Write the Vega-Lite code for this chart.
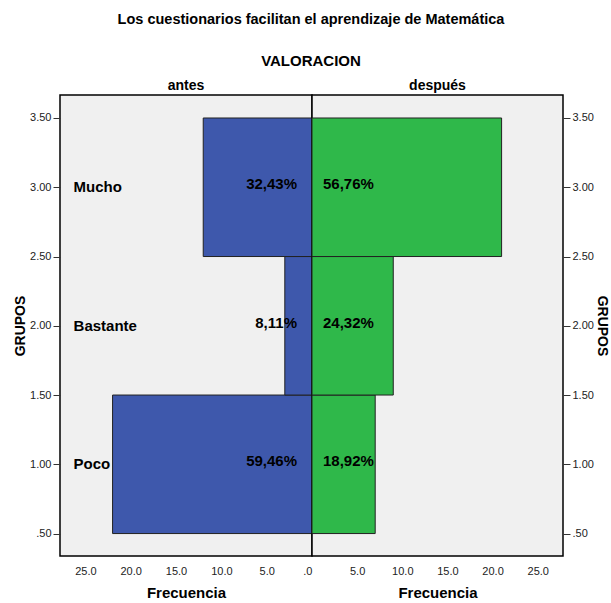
{
  "$schema": "https://vega.github.io/schema/vega-lite/v6.json",
  "padding": {"left": 12, "right": 0, "top": 11, "bottom": 0},
  "background": "white",
  "bounds": "flush",
  "title": {
    "text": "Los cuestionarios facilitan el aprendizaje de Matemática",
    "subtitle": "VALORACION",
    "anchor": "middle",
    "fontSize": 14.5,
    "fontWeight": "bold",
    "font": "Liberation Sans",
    "color": "#000000",
    "subtitleFont": "Liberation Sans",
    "subtitleFontSize": 15,
    "subtitleFontWeight": "bold",
    "subtitleColor": "#000000",
    "subtitlePadding": 27,
    "offset": 8
  },
  "datasets": {
    "antes": [
      {"grupo": "Poco", "codigo": 1, "desde": 0.5, "hasta": 1.5, "frecuencia": 22, "porcentaje": "59,46%"},
      {"grupo": "Bastante", "codigo": 2, "desde": 1.5, "hasta": 2.5, "frecuencia": 3, "porcentaje": "8,11%"},
      {"grupo": "Mucho", "codigo": 3, "desde": 2.5, "hasta": 3.5, "frecuencia": 12, "porcentaje": "32,43%"}
    ],
    "despues": [
      {"grupo": "Poco", "codigo": 1, "desde": 0.5, "hasta": 1.5, "frecuencia": 7, "porcentaje": "18,92%"},
      {"grupo": "Bastante", "codigo": 2, "desde": 1.5, "hasta": 2.5, "frecuencia": 9, "porcentaje": "24,32%"},
      {"grupo": "Mucho", "codigo": 3, "desde": 2.5, "hasta": 3.5, "frecuencia": 21, "porcentaje": "56,76%"}
    ]
  },
  "config": {
    "font": "Liberation Sans",
    "view": {"stroke": "#000000", "strokeWidth": 1.5, "fill": "#F0F0F0"},
    "axis": {"grid": false, "labelFont": "Liberation Sans", "titleFont": "Liberation Sans", "labelColor": "#222222", "titleColor": "#000000", "titleFontWeight": "bold", "titleFontSize": 14, "labelFontSize": 11},
    "title": {"font": "Liberation Sans"},
    "concat": {"spacing": 0}
  },
  "hconcat": [
    {
      "width": 252,
      "height": 461,
      "title": {"text": "antes", "fontSize": 14, "fontWeight": "bold", "color": "#000000", "offset": 2},
      "data": {"name": "antes"},
      "layer": [
        {
          "mark": {"type": "rect", "fill": "#3E58AC", "stroke": "#222222", "strokeWidth": 1},
          "encoding": {
            "x": {"field": "frecuencia", "type": "quantitative",
              "scale": {"domain": [0, 27.8], "reverse": true, "nice": false, "zero": false},
              "axis": {"values": [0, 5, 10, 15, 20, 25], "ticks": false, "domain": false, "labelPadding": 9,
                "labelExpr": "datum.value == 0 ? '.0' : format(datum.value, '.1f')",
                "title": "Frecuencia", "titleFontSize": 15, "titlePadding": 9}},
            "x2": {"datum": 0},
            "y": {"field": "desde", "type": "quantitative",
              "scale": {"domain": [0.338, 3.666], "nice": false, "zero": false},
              "axis": {"values": [0.5, 1, 1.5, 2, 2.5, 3, 3.5], "domain": false, "tickSize": 7, "tickColor": "#333333",
                "labelExpr": "datum.value < 1 ? slice(format(datum.value, '.2f'), 1) : format(datum.value, '.2f')",
                "title": "GRUPOS", "titlePadding": 2}},
            "y2": {"field": "hasta"}
          }
        },
        {
          "mark": {"type": "text", "align": "left", "baseline": "middle", "fontSize": 15, "fontWeight": "bold", "color": "#000000"},
          "encoding": {
            "x": {"datum": 26.3},
            "y": {"field": "codigo", "type": "quantitative"},
            "text": {"field": "grupo"}
          }
        },
        {
          "mark": {"type": "text", "align": "right", "baseline": "middle", "dx": -15, "dy": -3, "fontSize": 15, "fontWeight": "bold", "color": "#000000"},
          "encoding": {
            "x": {"datum": 0},
            "y": {"field": "codigo", "type": "quantitative"},
            "text": {"field": "porcentaje"}
          }
        }
      ]
    },
    {
      "width": 251,
      "height": 461,
      "title": {"text": "después", "fontSize": 14, "fontWeight": "bold", "color": "#000000", "offset": 2},
      "data": {"name": "despues"},
      "layer": [
        {
          "mark": {"type": "rect", "fill": "#2FB84A", "stroke": "#222222", "strokeWidth": 1},
          "encoding": {
            "x": {"field": "frecuencia", "type": "quantitative",
              "scale": {"domain": [0, 27.8], "nice": false, "zero": false},
              "axis": {"values": [5, 10, 15, 20, 25], "ticks": false, "domain": false, "labelPadding": 9,
                "labelExpr": "format(datum.value, '.1f')",
                "title": "Frecuencia", "titleFontSize": 15, "titlePadding": 9}},
            "x2": {"datum": 0},
            "y": {"field": "desde", "type": "quantitative",
              "scale": {"domain": [0.338, 3.666], "nice": false, "zero": false},
              "axis": {"orient": "right", "values": [0.5, 1, 1.5, 2, 2.5, 3, 3.5], "domain": false, "tickSize": 7, "tickColor": "#333333",
                "labelExpr": "datum.value < 1 ? slice(format(datum.value, '.2f'), 1) : format(datum.value, '.2f')",
                "title": "GRUPOS", "titlePadding": 1}},
            "y2": {"field": "hasta"}
          }
        },
        {
          "mark": {"type": "text", "align": "left", "baseline": "middle", "dx": 11, "dy": -3, "fontSize": 15, "fontWeight": "bold", "color": "#000000"},
          "encoding": {
            "x": {"datum": 0},
            "y": {"field": "codigo", "type": "quantitative"},
            "text": {"field": "porcentaje"}
          }
        }
      ]
    }
  ]
}
